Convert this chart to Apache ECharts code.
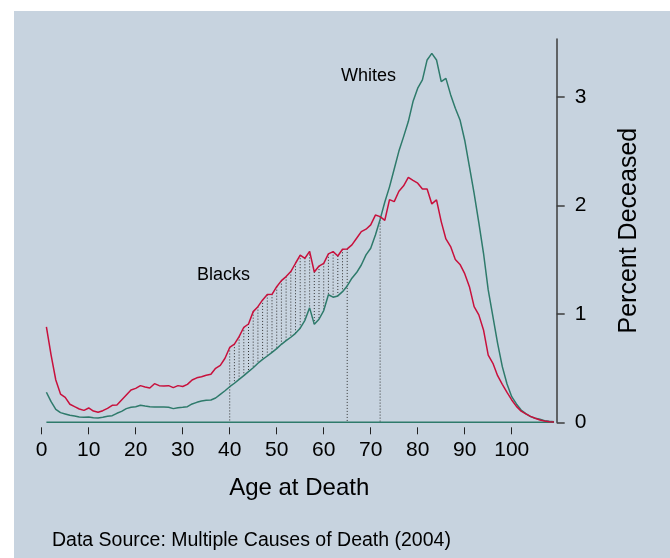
<!DOCTYPE html>
<html><head><meta charset="utf-8">
<script src="https://cdn.jsdelivr.net/npm/echarts@6/dist/echarts.min.js"></script>
<style>html,body{margin:0;padding:0;background:#ffffff}#c{width:670px;height:558px}</style>
</head><body><div id="c"></div>
<script>
// Age at death (years)
const ages = [1,2,3,4,5,6,7,8,9,10,11,12,13,14,15,16,17,18,19,20,
  21,22,23,24,25,26,27,28,29,30,31,32,33,34,35,36,37,38,39,40,
  41,42,43,44,45,46,47,48,49,50,51,52,53,54,55,56,57,58,59,60,
  61,62,63,64,65,66,67,68,69,70,71,72,73,74,75,76,77,78,79,80,
  81,82,83,84,85,86,87,88,89,90,91,92,93,94,95,96,97,98,99,100,
  101,102,103,104,105,106,107,108,109];
// Percent deceased, Blacks
const blacks = [0.88,0.62,0.39,0.26,0.23,0.166,0.144,0.123,0.11,0.132,
  0.104,0.092,0.107,0.129,0.157,0.16,0.206,0.252,0.298,0.313,
  0.338,0.326,0.316,0.356,0.338,0.335,0.338,0.32,0.338,0.33,
  0.35,0.39,0.41,0.42,0.433,0.443,0.498,0.525,0.59,0.69,
  0.72,0.79,0.876,0.906,1.02,1.066,1.128,1.177,1.18,1.25,
  1.306,1.343,1.389,1.466,1.54,1.512,1.575,1.385,1.44,1.465,
  1.553,1.573,1.533,1.595,1.598,1.635,1.696,1.758,1.78,1.82,
  1.91,1.896,1.862,2.053,2.034,2.13,2.18,2.258,2.23,2.204,
  2.151,2.151,2.013,2.05,1.85,1.69,1.62,1.5,1.455,1.37,
  1.25,1.066,0.99,0.851,0.62,0.544,0.43,0.35,0.275,0.206,
  0.147,0.103,0.078,0.055,0.037,0.021,0.012,0.006,0.003];
// Percent deceased, Whites
const whites = [0.277,0.19,0.12,0.089,0.077,0.065,0.058,0.049,0.046,0.049,
  0.043,0.04,0.046,0.055,0.061,0.083,0.101,0.126,0.138,0.144,
  0.157,0.15,0.144,0.141,0.14,0.14,0.138,0.126,0.135,0.138,
  0.144,0.169,0.184,0.196,0.203,0.206,0.224,0.258,0.291,0.328,
  0.36,0.396,0.43,0.467,0.503,0.544,0.58,0.611,0.645,0.679,
  0.719,0.752,0.784,0.82,0.867,0.94,1.055,0.903,0.95,1.03,
  1.176,1.153,1.165,1.204,1.257,1.328,1.38,1.45,1.543,1.604,
  1.727,1.87,2.03,2.17,2.335,2.5,2.633,2.772,2.956,3.08,
  3.156,3.34,3.4,3.34,3.14,3.17,3.02,2.895,2.787,2.6,
  2.357,2.11,1.84,1.558,1.22,0.974,0.728,0.513,0.353,0.236,
  0.169,0.113,0.08,0.052,0.037,0.028,0.015,0.009,0.004];
const xTicks = [0,10,20,30,40,50,60,70,80,90,100];
const yTicks = [0,1,2,3];
// ages with dotted connectors between the two curves
const hatchAges = [41,42,43,44,45,46,47,48,49,50,51,52,53,54,55,56,57,58,59,60,61,62,63,64];
// ages with dotted drop lines to zero
const dropAges = [40,65,72];

const FONT = "'Liberation Sans', Arial, Helvetica, sans-serif";
const RED = '#c8103c';
const GREEN = '#2e7a6b';
const BG = '#c7d3df';

const idx = a => ages.indexOf(a);
const connectorData = [];
hatchAges.forEach(a => connectorData.push([a, blacks[idx(a)], whites[idx(a)]]));
dropAges.forEach(a => connectorData.push([a, blacks[idx(a)], 0]));

const chart = echarts.init(document.getElementById('c'), null, {renderer: 'canvas'});
chart.setOption({
  backgroundColor: '#ffffff',
  animation: false,
  graphic: [
    {type: 'rect', left: 14, top: 11, shape: {width: 656, height: 547}, style: {fill: BG}, z: -10, silent: true},
    {type: 'text', left: 52, top: 531, style: {text: 'Data Source: Multiple Causes of Death (2004)', font: '19.5px ' + FONT, fill: '#000'}},
    {type: 'text', left: 341, top: 67, style: {text: 'Whites', font: '18px ' + FONT, fill: '#000'}},
    {type: 'text', left: 197, top: 266, style: {text: 'Blacks', font: '18px ' + FONT, fill: '#000'}}
  ],
  grid: {left: 41.7, right: 113.3, top: 39, bottom: 135.7, containLabel: false},
  xAxis: {
    type: 'value', min: 0, max: 109.57, offset: 5,
    name: 'Age at Death', nameLocation: 'middle', nameGap: 49,
    nameTextStyle: {fontFamily: FONT, fontSize: 24, color: '#000'},
    axisLine: {show: false, onZero: false},
    axisTick: {show: true, length: 7, customValues: xTicks, lineStyle: {color: '#222', width: 1}},
    axisLabel: {customValues: xTicks, fontFamily: FONT, fontSize: 21, color: '#000', margin: 12},
    splitLine: {show: false}
  },
  yAxis: {
    type: 'value', position: 'right', min: 0, max: 3.533,
    name: 'Percent Deceased', nameLocation: 'middle', nameGap: 60, nameRotate: 90,
    nameTextStyle: {fontFamily: FONT, fontSize: 25, color: '#000'},
    axisLine: {show: true, onZero: false, lineStyle: {color: '#3c3c3c', width: 1.5}},
    axisTick: {show: true, length: 8, customValues: yTicks, lineStyle: {color: '#3c3c3c', width: 1.5}},
    axisLabel: {customValues: yTicks, fontFamily: FONT, fontSize: 21, color: '#000', margin: 18},
    splitLine: {show: false}
  },
  series: [
    {
      type: 'custom', name: 'gap', data: connectorData, z: 1, silent: true,
      renderItem: (params, api) => {
        const p1 = api.coord([api.value(0), api.value(1)]);
        const p2 = api.coord([api.value(0), api.value(2)]);
        return {type: 'line', shape: {x1: p1[0], y1: p1[1], x2: p2[0], y2: p2[1]},
          style: {stroke: '#333', lineWidth: 1, lineDash: [1, 2]}};
      }
    },
    {type: 'line', name: 'Zero', data: [[ages[0], 0], [ages[ages.length - 1], 0]], symbol: 'none',
      lineStyle: {color: GREEN, width: 1.5}, z: 2},
    {type: 'line', name: 'Whites', data: ages.map((a, i) => [a, whites[i]]), symbol: 'none',
      lineStyle: {color: GREEN, width: 1.5}, z: 3},
    {type: 'line', name: 'Blacks', data: ages.map((a, i) => [a, blacks[i]]), symbol: 'none',
      lineStyle: {color: RED, width: 1.5}, z: 4}
  ]
});
</script>
</body></html>
